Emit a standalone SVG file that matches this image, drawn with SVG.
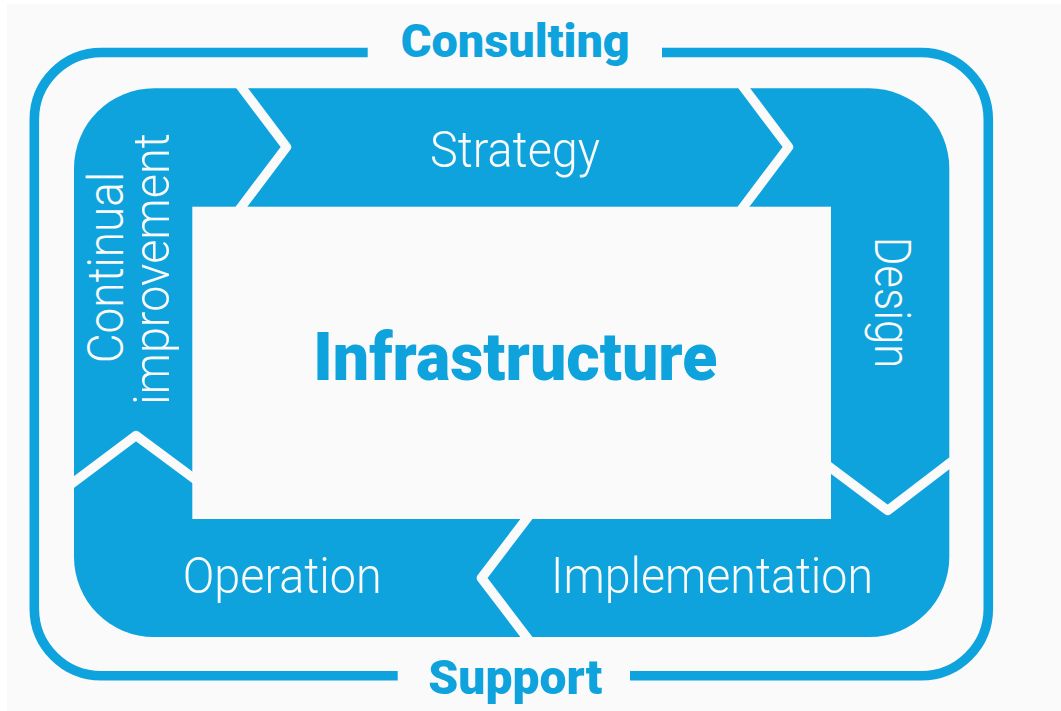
<svg xmlns="http://www.w3.org/2000/svg" width="1061" height="711" viewBox="0 0 1061 711">
  <style>
    .bg { fill: #fafafa; }
    .blue { fill: #0ea3dc; }
    .frame { fill: none; stroke: #0ea3dc; stroke-width: 9.6; stroke-linecap: butt; }
    .sep { fill: none; stroke: #fafafa; stroke-width: 9.5; stroke-linejoin: round; stroke-linecap: butt; }
    .lbl { font-family: Roboto, "Open Sans", "Liberation Sans", sans-serif; font-weight: 300; font-size: 50px; fill: #fafafa; }
    .ttl { font-family: Roboto, "Open Sans", "Liberation Sans", sans-serif; font-weight: 900; fill: #0ea3dc; }
  </style>
  <rect x="0" y="0" width="1061" height="711" fill="#ffffff"/>
  <rect class="bg" x="7" y="4" width="1054" height="707"/>

  <g id="consulting-frame">
    <path class="frame" d="M367.7,52.5 H101.3 A67,67 0 0 0 34.3,119.5 V608.7 A67,67 0 0 0 101.3,675.7 H397.7"/>
    <path class="frame" d="M662,52.5 H921.3 A67,67 0 0 1 988.3,119.5 V608.7 A67,67 0 0 1 921.3,675.7 H630"/>
  </g>

  <g id="cycle">
    <rect class="blue" x="74" y="88.3" width="875.3" height="548.7" rx="80" ry="80"/>
  </g>

  <g id="infrastructure">
    <rect class="bg" x="192.3" y="206.7" width="638.7" height="312.3"/>
    <text class="ttl" x="515.3" y="380" font-size="66" text-anchor="middle" textLength="404" lengthAdjust="spacingAndGlyphs">Infrastructure</text>
  </g>

  <g id="connectors">
    <polyline class="sep" points="236,80 286.5,147 236,214"/>
    <polyline class="sep" points="738,80 788.5,147 738,214"/>
    <polyline class="sep" points="825,463.5 887.7,510.5 955,459"/>
    <polyline class="sep" points="531,513 481.5,578 531,643"/>
    <polyline class="sep" points="68,486.5 136,435.5 198,481.5"/>
  </g>

  <g id="strategy">
    <text class="lbl" x="515" y="167" text-anchor="middle" textLength="170" lengthAdjust="spacingAndGlyphs">Strategy</text>
  </g>

  <g id="design">
    <text class="lbl" transform="translate(875,236.7) rotate(90)" x="0" y="0" textLength="131.6" lengthAdjust="spacingAndGlyphs">Design</text>
  </g>

  <g id="implementation">
    <text class="lbl" x="551" y="592.7" textLength="322" lengthAdjust="spacingAndGlyphs">Implementation</text>
  </g>

  <g id="operation">
    <text class="lbl" x="182.7" y="592.7" textLength="199" lengthAdjust="spacingAndGlyphs">Operation</text>
  </g>

  <g id="continual-improvement">
    <text class="lbl" transform="translate(123.3,363.3) rotate(-90)" x="0" y="0" textLength="191.6" lengthAdjust="spacingAndGlyphs">Continual</text>
    <text class="lbl" transform="translate(169.3,405) rotate(-90)" x="0" y="0" textLength="271.7" lengthAdjust="spacingAndGlyphs">improvement</text>
  </g>

  <g id="consulting">
    <text class="ttl" x="515.3" y="57" font-size="47" text-anchor="middle" textLength="229" lengthAdjust="spacingAndGlyphs">Consulting</text>
  </g>

  <g id="support">
    <text class="ttl" x="515.3" y="694" font-size="49" text-anchor="middle" textLength="174" lengthAdjust="spacingAndGlyphs">Support</text>
  </g>
</svg>
